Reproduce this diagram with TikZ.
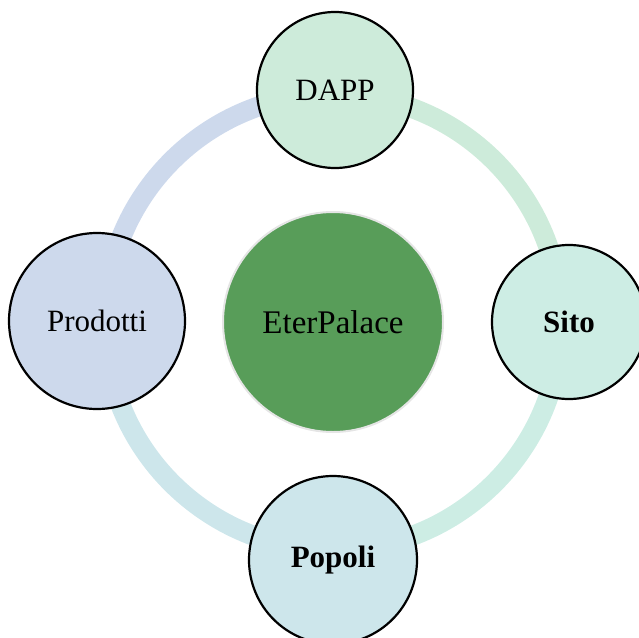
\documentclass[tikz,border=0pt]{standalone}
\usepackage{fontspec}
\setmainfont{Liberation Serif}
\usepackage{xcolor}
\usetikzlibrary{calc, positioning}
\pgfdeclarelayer{bg}
\pgfsetlayers{bg,main}

\definecolor{eterGreen}{HTML}{589D59}
\definecolor{dappFill}{HTML}{CDEBDA}
\definecolor{sitoFill}{HTML}{CDEDE4}
\definecolor{popoliFill}{HTML}{CDE6EB}
\definecolor{prodFill}{HTML}{CDD9EC}

\begin{document}
\begin{tikzpicture}[x=1pt, y=1pt,
    item/.style={circle, draw=black, line width=2.2, inner sep=0pt, text centered, font=\fontsize{31}{36}\selectfont},
    ring/.style={line width=20}]
      \useasboundingbox (0,0) rectangle (639,-637);
      % nodes %
      \node[circle, fill=eterGreen, draw=black!10, line width=2, minimum size=220, text centered, font=\fontsize{33}{38}\selectfont] (ep) at (333,-322) {EterPalace};
      \node[item, fill=dappFill, minimum size=156] (dapp) at (335,-90) {DAPP};
      \node[item, fill=sitoFill, minimum size=154] (sito) at (569,-322) {\bfseries Sito};
      \node[item, fill=popoliFill, minimum size=168] (popoli) at (333,-560) {\bfseries Popoli};
      \node[item, fill=prodFill, minimum size=176] (prod) at (97,-321) {Prodotti};
      % ring %
      \begin{pgfonlayer}{bg}
        \draw[ring, dappFill] ($(ep.center)+(90:228)$) arc (90:0:228);
        \draw[ring, sitoFill] ($(ep.center)+(0:228)$) arc (0:-90:228);
        \draw[ring, popoliFill] ($(ep.center)+(-90:228)$) arc (-90:-180:228);
        \draw[ring, prodFill] ($(ep.center)+(180:228)$) arc (180:90:228);
      \end{pgfonlayer}
    \end{tikzpicture}
\end{document}
